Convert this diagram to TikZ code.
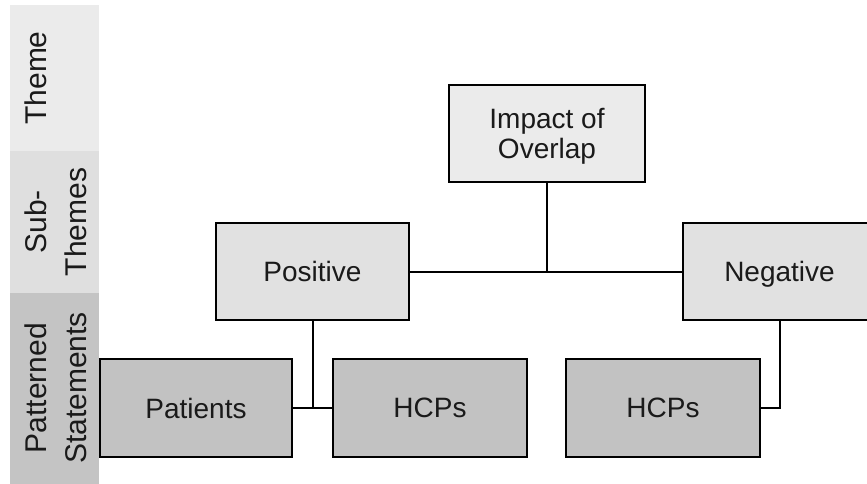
\documentclass[tikz,border=0pt]{standalone}
\usepackage{fontspec}
\setmainfont{Liberation Sans}
\definecolor{bandA}{HTML}{EBEBEB}
\definecolor{bandB}{HTML}{DFDFDF}
\definecolor{bandC}{HTML}{C4C4C4}
\definecolor{boxA}{HTML}{EBEBEB}
\definecolor{boxB}{HTML}{E1E1E1}
\definecolor{boxC}{HTML}{C2C2C2}
\definecolor{ink}{HTML}{1A1A1A}
\begin{document}
\begin{tikzpicture}[x=1pt,y=-1pt,
  box/.style={draw=black,line width=2pt,rectangle,inner sep=0pt,align=center,
    text=ink,text depth=0pt,font=\fontsize{28}{30}\selectfont},
  toplevel/.style={box,fill=boxA,minimum width=196pt,minimum height=97pt},
  midlevel/.style={box,fill=boxB,minimum width=193pt,minimum height=97pt},
  lowlevel/.style={box,fill=boxC,minimum width=194pt,minimum height=98pt},
  bandlabel/.style={rotate=90,anchor=north,inner sep=0pt,align=center,text=ink,
    font=\fontsize{30}{40}\selectfont},
  conn/.style={draw=black,line width=2pt}]
\useasboundingbox (0,0) rectangle (867,484);
\fill[white] (0,0) rectangle (867,484);
% bands
\fill[bandA] (10,5) rectangle (99,151);
\fill[bandB] (10,151) rectangle (99,293);
\fill[bandC] (10,293) rectangle (99,484);
\node[bandlabel] (lblTheme) at (25,78) {Theme};
\node[bandlabel] (lblSub) at (25,222) {Sub-\\Themes};
\node[bandlabel] (lblPat) at (25,388) {Patterned\\Statements};
% boxes
\node[toplevel] (impact) at (547,133.5) {Impact of\\Overlap};
\node[midlevel] (positive) at (312.5,271.5) {Positive};
\node[midlevel] (negative) at (779.5,271.5) {Negative};
\node[lowlevel,minimum width=192pt] (patients) at (196,408) {Patients};
\node[lowlevel] (hcpsA) at (430,408) {HCPs};
\node[lowlevel] (hcpsB) at (663,408) {HCPs};
% connectors
\draw[conn] (positive.east) -- (negative.west);
\draw[conn] (impact.south) -- (impact.south |- positive.east);
\draw[conn] (patients.east) -- (hcpsA.west);
\draw[conn] (positive.south) -- (positive.south |- patients.east);
\draw[conn] (negative.south) |- (hcpsB.east);
\end{tikzpicture}
\end{document}
